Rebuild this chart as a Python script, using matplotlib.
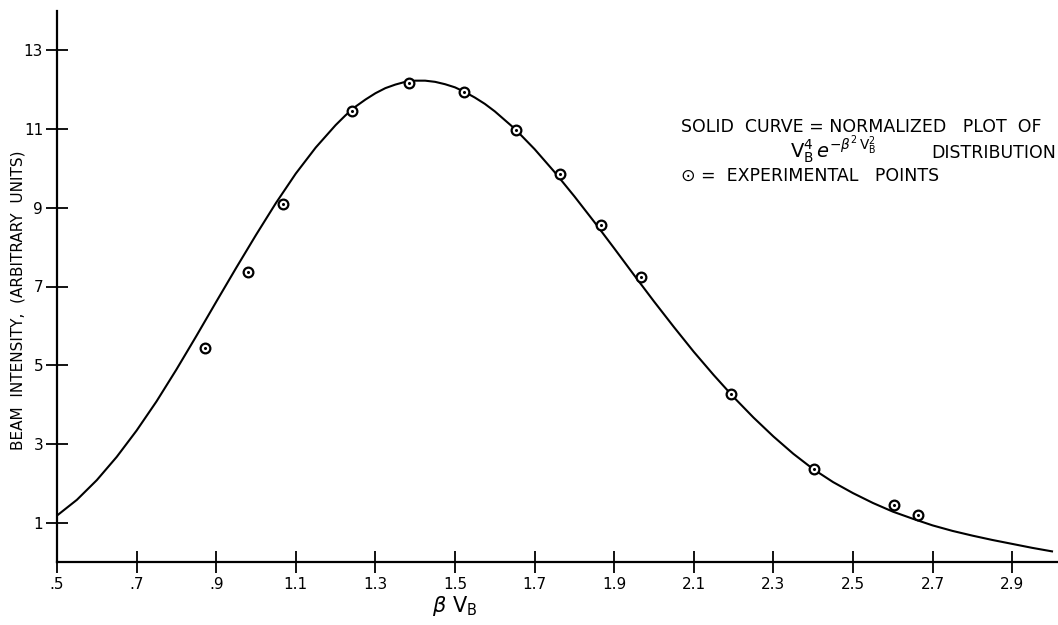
import matplotlib
matplotlib.use("Agg")
import matplotlib.pyplot as plt

# curve (finer steps around the peak)
curva_x = [0.50, 0.55, 0.60, 0.65, 0.70, 0.75, 0.80, 0.85, 0.90, 0.95,
           1.00, 1.05, 1.10, 1.15, 1.20, 1.225, 1.25, 1.275, 1.30, 1.325,
           1.35, 1.375, 1.40, 1.425, 1.45, 1.475, 1.50, 1.525, 1.55, 1.575,
           1.60, 1.65, 1.70, 1.75, 1.80, 1.85, 1.90, 1.95,
           2.00, 2.05, 2.10, 2.15, 2.20, 2.25, 2.30, 2.35, 2.40, 2.45,
           2.50, 2.55, 2.60, 2.65, 2.70, 2.75, 2.80, 2.85, 2.90, 2.95, 3.00]
curva_y = [1.18, 1.58, 2.08, 2.67, 3.34, 4.08, 4.89, 5.74, 6.61, 7.47,
           8.31, 9.12, 9.87, 10.53, 11.10, 11.35, 11.57, 11.75, 11.91, 12.04,
           12.13, 12.20, 12.23, 12.23, 12.20, 12.14, 12.06, 11.94, 11.80, 11.64,
           11.45, 11.01, 10.49, 9.91, 9.29, 8.64, 7.97, 7.29,
           6.62, 5.97, 5.34, 4.75, 4.19, 3.67, 3.19, 2.75, 2.36, 2.03,
           1.75, 1.50, 1.28, 1.10, 0.93, 0.79, 0.67, 0.56, 0.46, 0.36, 0.27]

# experimental points
pontos_x = [0.872, 0.979, 1.069, 1.240, 1.385, 1.522, 1.653, 1.763,
            1.867, 1.967, 2.193, 2.402, 2.604, 2.664]
pontos_y = [5.45, 7.38, 9.09, 11.45, 12.18, 11.93, 10.98, 9.85,
            8.56, 7.24, 4.28, 2.36, 1.44, 1.19]

ticks_x = [0.5, 0.7, 0.9, 1.1, 1.3, 1.5, 1.7, 1.9, 2.1, 2.3, 2.5, 2.7, 2.9]
rotulos_x = [".5", ".7", ".9", "1.1", "1.3", "1.5", "1.7", "1.9",
             "2.1", "2.3", "2.5", "2.7", "2.9"]
ticks_y = [1, 3, 5, 7, 9, 11, 13]

plt.rcParams["font.family"] = ["DejaVu Sans"]

fig = plt.figure(figsize=(10.58, 6.25), dpi=100)
ax = fig.add_axes([57 / 1058, 63 / 625, 1001 / 1058, 551 / 625])

ax.plot(curva_x, curva_y, color="black", linewidth=1.5, zorder=2)
ax.plot(pontos_x, pontos_y, linestyle="none", marker="o", markersize=7,
        markerfacecolor="white", markeredgecolor="black", markeredgewidth=1.6,
        zorder=3)
ax.plot(pontos_x, pontos_y, linestyle="none", marker="o", markersize=1.2,
        color="black", zorder=4)

ax.set_xlim(0.5, 0.5 + 1001 / 398)
ax.set_ylim(0, 14)

for lado in ["top", "right"]:
    ax.spines[lado].set_visible(False)
for lado in ["left", "bottom"]:
    ax.spines[lado].set_linewidth(1.6)

ax.set_xticks(ticks_x)
ax.set_xticklabels(rotulos_x)
ax.set_yticks(ticks_y)
ax.tick_params(direction="inout", length=16, width=1.3, labelsize=11,
               pad=2)
ax.tick_params(axis="x", pad=3)

fig.text(18 / 1058, 1 - 300 / 625, "BEAM  INTENSITY,  (ARBITRARY  UNITS)",
         rotation=90, fontsize=11, ha="center", va="center")
fig.text(455 / 1058, 1 - 606 / 625, r"$\beta\ \mathsf{V}_{\mathsf{B}}$",
         fontsize=15, ha="center", va="center")

ax.text(0.623, 0.790, "SOLID  CURVE = NORMALIZED   PLOT  OF",
        transform=ax.transAxes, fontsize=12.5, ha="left", va="center")
ax.text(0.732, 0.734,
        r"$\mathsf{V}_{\mathsf{B}}^{4}\,e^{-\beta^{2}\,\mathsf{V}_{\mathsf{B}}^{2}}$",
        transform=ax.transAxes, fontsize=14, ha="left", va="baseline")
ax.text(0.998, 0.734, "DISTRIBUTION",
        transform=ax.transAxes, fontsize=12.5, ha="right", va="baseline")
ax.text(0.623, 0.700, "\u2299 =  EXPERIMENTAL   POINTS",
        transform=ax.transAxes, fontsize=12.5, ha="left", va="center")

fig.savefig("out.png", dpi=100)
